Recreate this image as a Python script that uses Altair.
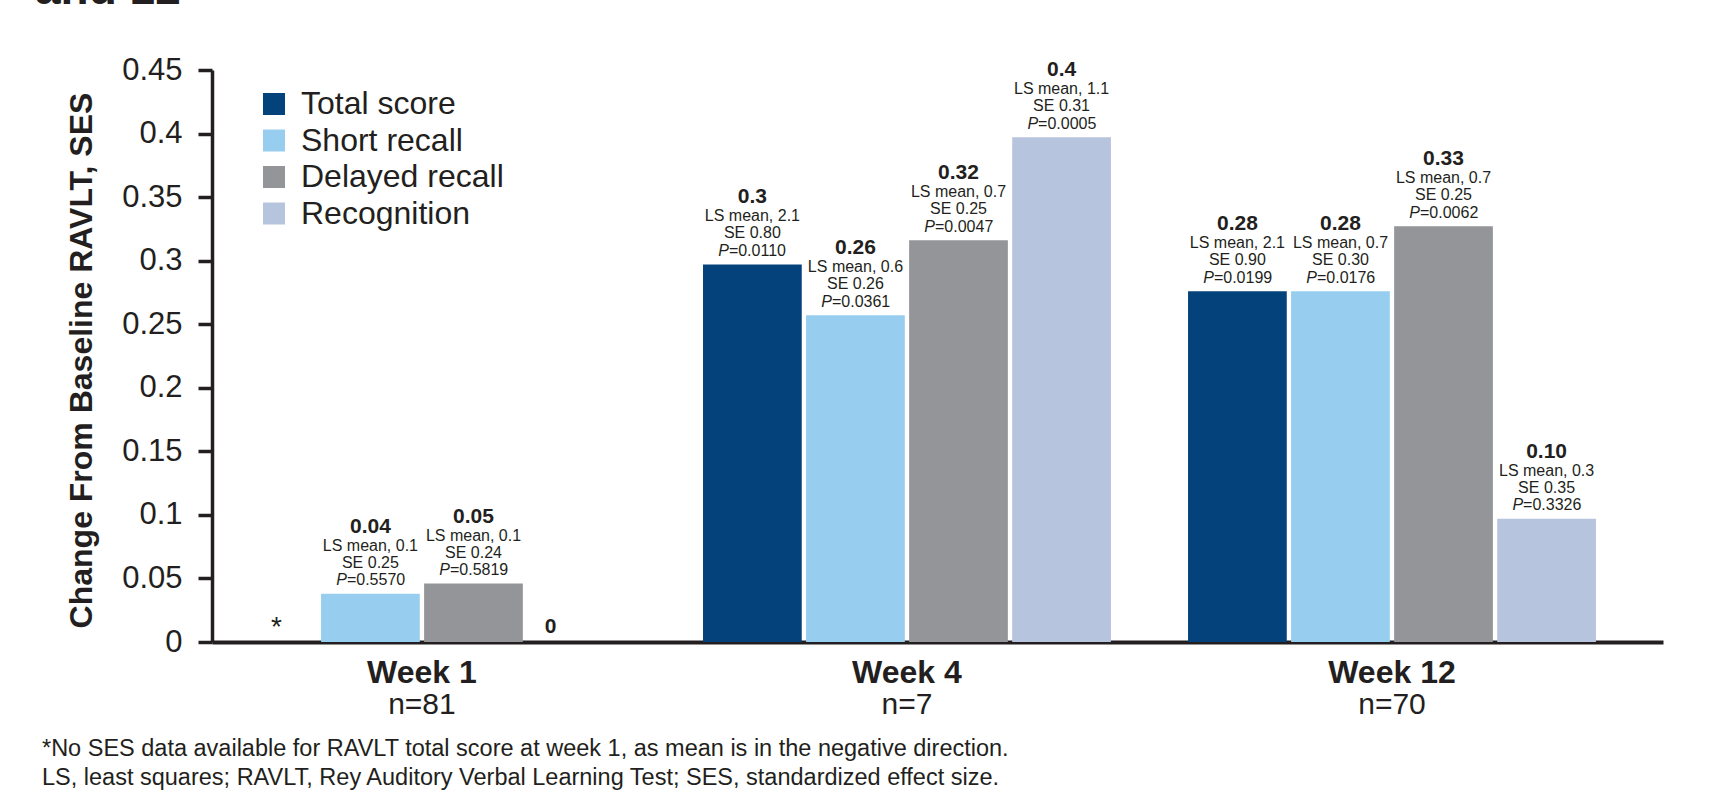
import altair as alt
import pandas as pd

# ---------------- data ----------------
weeks = ["Week 1", "Week 4", "Week 12"]
n_labels = ["n=81", "n=7", "n=70"]
measures = ["Total score", "Short recall", "Delayed recall", "Recognition"]
colors = ["#03427A", "#97CEEF", "#939598", "#B7C4DD"]

# SES bar heights per measure (Week 1, Week 4, Week 12)
total_ses = [None, 0.297, 0.276]
short_ses = [0.038, 0.257, 0.276]
delayed_ses = [0.046, 0.316, 0.327]
recognition_ses = [0.0, 0.397, 0.097]

# printed SES labels
total_lbl = ["*", "0.3", "0.28"]
short_lbl = ["0.04", "0.26", "0.28"]
delayed_lbl = ["0.05", "0.32", "0.33"]
recognition_lbl = ["0", "0.4", "0.10"]

# LS mean
total_ls = ["", "2.1", "2.1"]
short_ls = ["0.1", "0.6", "0.7"]
delayed_ls = ["0.1", "0.7", "0.7"]
recognition_ls = ["", "1.1", "0.3"]

# SE
total_se = ["", "0.80", "0.90"]
short_se = ["0.25", "0.26", "0.30"]
delayed_se = ["0.24", "0.25", "0.25"]
recognition_se = ["", "0.31", "0.35"]

# P values
total_p = ["", "0.0110", "0.0199"]
short_p = ["0.5570", "0.0361", "0.0176"]
delayed_p = ["0.5819", "0.0047", "0.0062"]
recognition_p = ["", "0.0005", "0.3326"]

footnote_1 = "*No SES data available for RAVLT total score at week 1, as mean is in the negative direction."
footnote_2 = "LS, least squares; RAVLT, Rey Auditory Verbal Learning Test; SES, standardized effect size."
title_fragment = "and 12"

series = {
    "Total score": (total_ses, total_lbl, total_ls, total_se, total_p),
    "Short recall": (short_ses, short_lbl, short_ls, short_se, short_p),
    "Delayed recall": (delayed_ses, delayed_lbl, delayed_ls, delayed_se, delayed_p),
    "Recognition": (recognition_ses, recognition_lbl, recognition_ls, recognition_se, recognition_p),
}

rows = []
for m in measures:
    ses, lbl, ls, se, p = series[m]
    for i, w in enumerate(weeks):
        rows.append({
            "week": w, "measure": m,
            "ses": ses[i] if ses[i] is not None else 0.0,
            "has_bar": ses[i] is not None and ses[i] > 0,
            "missing": ses[i] is None,
            "zero": ses[i] is not None and ses[i] == 0,
            "lbl": lbl[i],
            "ls": f"LS mean, {ls[i]}" if ls[i] else "",
            "se": f"SE {se[i]}" if se[i] else "",
            "p": "P" if p[i] else "",
            "prest": f"={p[i]}" if p[i] else "",
        })
df = pd.DataFrame(rows)
bars_df = df[df["has_bar"]]
missing_df = df[df["missing"]]
zero_df = df[df["zero"]]
week_df = pd.DataFrame({"week": weeks, "n": n_labels})

# ---------------- layout ----------------
W, H = 1451, 572
FONT = "Liberation Sans"
INK = "#231F20"

x_enc = alt.X(
    "week:N", sort=weeks,
    scale=alt.Scale(domain=weeks, paddingInner=0.159, paddingOuter=0.0753, align=0.082),
    axis=alt.Axis(labels=False, ticks=False, title=None, domain=True,
                  domainColor=INK, domainWidth=4),
)
xo_enc = alt.XOffset(
    "measure:N", sort=measures,
    scale=alt.Scale(domain=measures, paddingInner=0.042, paddingOuter=0),
)
y_enc = alt.Y(
    "ses:Q",
    scale=alt.Scale(domain=[0, 0.45], nice=False, zero=True),
    axis=alt.Axis(
        values=[0, 0.05, 0.1, 0.15, 0.2, 0.25, 0.3, 0.35, 0.4, 0.45],
        format="~g", grid=False,
        domain=True, domainColor=INK, domainWidth=3.5,
        ticks=True, tickColor=INK, tickWidth=3.5, tickSize=14,
        labelFont=FONT, labelFontSize=31, labelColor=INK, labelPadding=16,
        title="Change From Baseline RAVLT, SES",
        titleFont=FONT, titleFontSize=32, titleFontWeight="bold", titleColor=INK,
        titleAngle=270, titleAlign="center", titleBaseline="alphabetic",
        titleX=-121, titleY=290,
    ),
)

bars = alt.Chart(bars_df).mark_bar().encode(
    x=x_enc, xOffset=xo_enc, y=y_enc,
    color=alt.Color(
        "measure:N", sort=measures,
        scale=alt.Scale(domain=measures, range=colors),
        legend=alt.Legend(
            orient="none", legendX=46, legendY=18, title=None,
            symbolType="square", symbolSize=484, symbolStrokeWidth=0, symbolOpacity=1,
            labelFont=FONT, labelFontSize=32, labelColor=INK, labelOffset=11,
            labelLimit=0, rowPadding=4.5, padding=0,
        ),
    ),
)


def bar_text(dy, field, size=16, weight="normal", style="normal", align="center", dx=0, data=bars_df):
    return alt.Chart(data).mark_text(
        font=FONT, fontSize=size, fontWeight=weight, fontStyle=style,
        color=INK, baseline="alphabetic", align=align, dx=dx, dy=dy,
    ).encode(x=alt.X("week:N", sort=weeks), xOffset=alt.XOffset("measure:N", sort=measures),
             y="ses:Q", text=f"{field}:N")


val_txt = bar_text(-61, "lbl", size=21, weight="bold")
ls_txt = bar_text(-43, "ls")
se_txt = bar_text(-26, "se")
p_txt = bar_text(-8.5, "p", style="italic", align="right", dx=-23.5)
prest_txt = bar_text(-8.5, "prest", align="left", dx=-23.5)
star_txt = bar_text(-6, "lbl", size=28, dx=9, data=missing_df)
zero_txt = bar_text(-9, "lbl", size=21, weight="bold", dx=-26, data=zero_df)

week_txt = alt.Chart(week_df).mark_text(
    font=FONT, fontSize=32, fontWeight="bold", color=INK, baseline="alphabetic"
).encode(x=alt.X("week:N", sort=weeks), y=alt.value(H + 41), text="week:N")
n_txt = alt.Chart(week_df).mark_text(
    font=FONT, fontSize=30, color=INK, baseline="alphabetic"
).encode(x=alt.X("week:N", sort=weeks), y=alt.value(H + 72), text="n:N")

note1 = alt.Chart(pd.DataFrame({"t": [footnote_1]})).mark_text(
    font=FONT, fontSize=23.5, color=INK, align="left", baseline="alphabetic"
).encode(x=alt.value(-170), y=alt.value(756 - 70), text="t:N")
note2 = alt.Chart(pd.DataFrame({"t": [footnote_2]})).mark_text(
    font=FONT, fontSize=23.5, color=INK, align="left", baseline="alphabetic"
).encode(x=alt.value(-170), y=alt.value(785 - 70), text="t:N")
title_txt = alt.Chart(pd.DataFrame({"t": [title_fragment]})).mark_text(
    font=FONT, fontSize=46, fontWeight="bold", color=INK, align="left", baseline="alphabetic"
).encode(x=alt.value(35 - 212), y=alt.value(4 - 70), text="t:N")

chart = alt.layer(
    bars, val_txt, ls_txt, se_txt, p_txt, prest_txt, star_txt, zero_txt,
    week_txt, n_txt, note1, note2, title_txt,
).properties(
    width=W, height=H,
    padding={"left": 212, "top": 70, "right": 62, "bottom": 158},
    autosize=alt.AutoSizeParams(type="none"),
    background="white",
).configure_view(stroke=None)

chart.save("out.html", embed_options={"renderer": "svg", "actions": False})
